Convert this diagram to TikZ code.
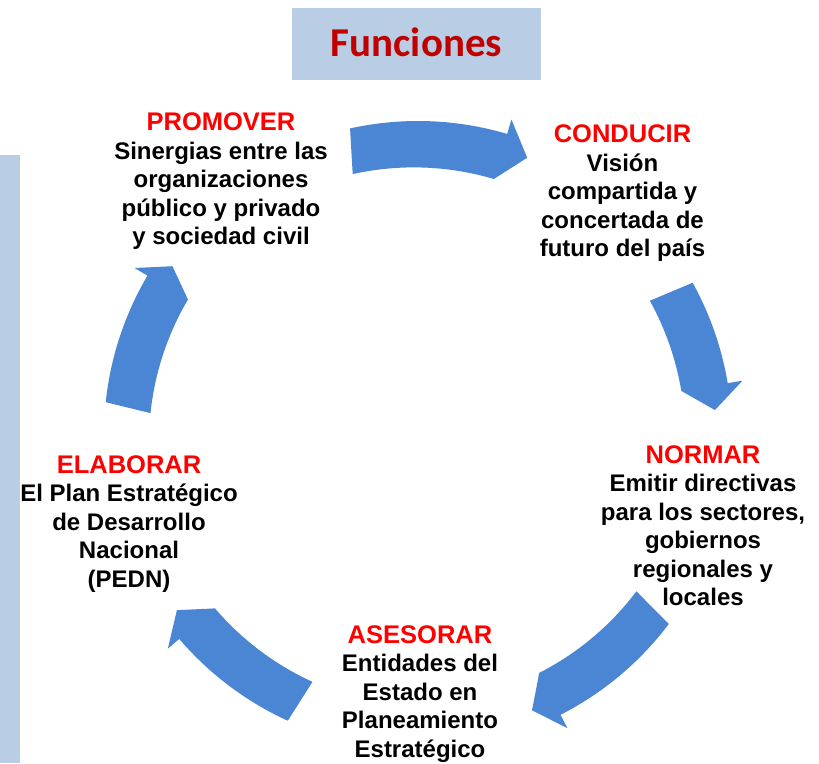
\documentclass[tikz,border=0pt]{standalone}
\usepackage{fontspec}
\setmainfont{Liberation Sans}
\newfontfamily\titlefont{Carlito}
\definecolor{barblue}{RGB}{185,205,229}
\definecolor{arrowblue}{RGB}{74,134,212}
\definecolor{titlered}{RGB}{192,0,0}
\definecolor{headred}{RGB}{255,0,0}
\newcommand{\hd}[1]{{\color{headred}\fontsize{25.5}{28.5}\selectfont #1}}
% tail angle, head-base angle, tip angle
\newcommand{\cyclearrow}[3]{%
  \fill[arrowblue] (#1:314) arc[start angle=#1, end angle=#2, radius=314]
    -- (#2:329) -- (#3:298) -- (#2:267)
    arc[start angle=#2, end angle=#1, radius=282] -- cycle;}
\begin{document}
\begin{tikzpicture}[x=1pt,y=1pt,
  blocktext/.style={align=center, inner sep=0pt, anchor=north,
    font=\bfseries\fontsize{24}{28.5}\selectfont}]
\useasboundingbox (0,0) rectangle (819,763);
\fill[white] (0,0) rectangle (819,763);
% left bar
\fill[barblue] (0,0) rectangle (20,608);
% title
\fill[barblue] (292,683) rectangle (541,755);
\node[anchor=base, inner sep=0pt, text=titlered,
  font=\titlefont\bfseries\fontsize{41}{48}\selectfont] (title) at (416.5,706) {Funciones};
% arrows
\begin{scope}[shift={(418,328)}]
  \cyclearrow{102.5}{73.5}{68.5}
  \cyclearrow{29}{9.5}{4.8}
  \cyclearrow{-37}{-63}{-67.5}
  \cyclearrow{-114.5}{-139.5}{-144}
  \cyclearrow{174}{149.5}{145.5}
\end{scope}
% text blocks
\node[blocktext] (promover) at (221,650) {\hd{PROMOVER}\\Sinergias entre las\\organizaciones\\público y privado\\y sociedad civil};
\node[blocktext] (conducir) at (622.5,638) {\hd{CONDUCIR}\\Visión\\compartida y\\concertada de\\futuro del país};
\node[blocktext] (normar) at (703,318) {\hd{NORMAR}\\Emitir directivas\\para los sectores,\\gobiernos\\regionales y\\locales};
\node[blocktext] (asesorar) at (420,138) {\hd{ASESORAR}\\Entidades del\\Estado en\\Planeamiento\\Estratégico};
\node[blocktext] (elaborar) at (129,308) {\hd{ELABORAR}\\El Plan Estratégico\\de Desarrollo\\Nacional\\(PEDN)};
\end{tikzpicture}
\end{document}
